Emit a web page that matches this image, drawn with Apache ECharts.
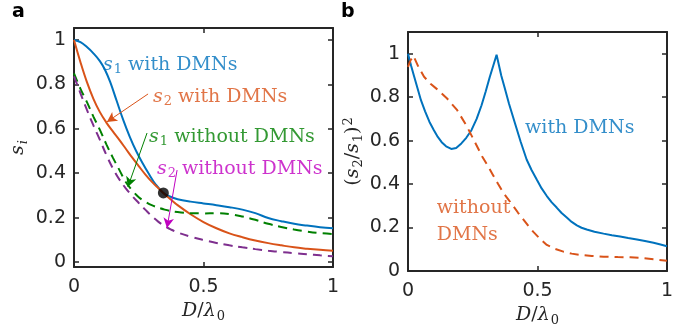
<!DOCTYPE html>
<html>
<head>
<meta charset="utf-8">
<script src="https://cdn.jsdelivr.net/npm/echarts@6/dist/echarts.min.js"></script>
<style>
  html, body {margin: 0; padding: 0; background: #fff;}
  #chart {width: 697px; height: 335px;}
</style>
</head>
<body>
<div id="chart"></div>
<script>
// panel a: s_i vs D/lambda0
const s1With = [[0, 1], [0.025, 0.99], [0.05, 0.968], [0.075, 0.94], [0.1, 0.905], [0.12, 0.865], [0.14, 0.81], [0.165, 0.725], [0.19, 0.64], [0.215, 0.565], [0.24, 0.5], [0.265, 0.445], [0.29, 0.395], [0.315, 0.35], [0.345, 0.311], [0.37, 0.295], [0.4, 0.283], [0.45, 0.272], [0.5, 0.264], [0.55, 0.256], [0.6, 0.247], [0.65, 0.236], [0.7, 0.22], [0.75, 0.198], [0.8, 0.184], [0.85, 0.172], [0.9, 0.164], [0.95, 0.157], [1, 0.152]];
const s2With = [[0, 1], [0.025, 0.9], [0.05, 0.81], [0.075, 0.735], [0.1, 0.675], [0.125, 0.628], [0.15, 0.588], [0.175, 0.55], [0.2, 0.51], [0.225, 0.47], [0.25, 0.432], [0.275, 0.395], [0.3, 0.362], [0.325, 0.333], [0.345, 0.311], [0.375, 0.28], [0.4, 0.256], [0.45, 0.215], [0.5, 0.18], [0.55, 0.152], [0.6, 0.129], [0.65, 0.112], [0.7, 0.097], [0.75, 0.085], [0.8, 0.075], [0.85, 0.066], [0.9, 0.06], [0.95, 0.055], [1, 0.051]];
const s1Without = [[0, 0.85], [0.025, 0.78], [0.05, 0.72], [0.075, 0.655], [0.1, 0.595], [0.125, 0.53], [0.15, 0.47], [0.175, 0.415], [0.2, 0.36], [0.225, 0.322], [0.25, 0.292], [0.275, 0.272], [0.3, 0.256], [0.35, 0.236], [0.4, 0.225], [0.45, 0.22], [0.5, 0.219], [0.55, 0.22], [0.6, 0.216], [0.65, 0.205], [0.7, 0.19], [0.75, 0.172], [0.8, 0.158], [0.85, 0.146], [0.9, 0.137], [0.95, 0.13], [1, 0.126]];
const s2Without = [[0, 0.836], [0.025, 0.76], [0.05, 0.685], [0.075, 0.615], [0.1, 0.55], [0.125, 0.482], [0.15, 0.422], [0.175, 0.372], [0.2, 0.332], [0.225, 0.297], [0.25, 0.266], [0.275, 0.236], [0.3, 0.207], [0.325, 0.182], [0.35, 0.162], [0.375, 0.146], [0.4, 0.133], [0.45, 0.114], [0.5, 0.099], [0.55, 0.086], [0.6, 0.075], [0.65, 0.066], [0.7, 0.058], [0.75, 0.051], [0.8, 0.045], [0.85, 0.04], [0.9, 0.035], [0.95, 0.03], [1, 0.026]];
const crossPoint = [[0.345, 0.311]];

// panel b: (s2/s1)^2 vs D/lambda0
const ratioWith = [[0, 1], [0.012, 0.945], [0.024, 0.894], [0.037, 0.84], [0.05, 0.786], [0.066, 0.735], [0.083, 0.686], [0.1, 0.648], [0.115, 0.617], [0.13, 0.593], [0.147, 0.574], [0.167, 0.562], [0.186, 0.566], [0.206, 0.587], [0.225, 0.613], [0.245, 0.648], [0.265, 0.7], [0.284, 0.763], [0.3, 0.826], [0.316, 0.894], [0.33, 0.948], [0.342, 0.995], [0.36, 0.9], [0.374, 0.84], [0.39, 0.77], [0.413, 0.68], [0.435, 0.595], [0.458, 0.513], [0.477, 0.465], [0.497, 0.421], [0.516, 0.38], [0.536, 0.345], [0.555, 0.316], [0.574, 0.292], [0.593, 0.267], [0.613, 0.246], [0.632, 0.226], [0.652, 0.21], [0.67, 0.199], [0.69, 0.191], [0.72, 0.181], [0.755, 0.172], [0.787, 0.165], [0.819, 0.159], [0.85, 0.152], [0.884, 0.145], [0.915, 0.138], [0.948, 0.13], [0.975, 0.122], [1, 0.114]];
const ratioWithout = [[0, 0.94], [0.01, 0.97], [0.021, 0.99], [0.04, 0.94], [0.062, 0.894], [0.087, 0.862], [0.113, 0.836], [0.151, 0.794], [0.19, 0.74], [0.228, 0.664], [0.261, 0.587], [0.287, 0.526], [0.31, 0.48], [0.329, 0.44], [0.348, 0.4], [0.368, 0.36], [0.387, 0.33], [0.406, 0.3], [0.425, 0.268], [0.445, 0.238], [0.465, 0.207], [0.484, 0.18], [0.51, 0.148], [0.536, 0.12], [0.568, 0.102], [0.6, 0.089], [0.632, 0.08], [0.665, 0.074], [0.71, 0.069], [0.755, 0.066], [0.81, 0.064], [0.858, 0.063], [0.9, 0.06], [0.948, 0.054], [1, 0.047]];

const yTicks = [0, 0.2, 0.4, 0.6, 0.8, 1];

// annotation anchors, in data units
const notesA = [
  {text: '{i|s}{sub|1}{n| with DMNs}', at: [0.112, 0.887], color: '#0072BD'},
  {text: '{i|s}{sub|2}{n| with DMNs}', at: [0.305, 0.743], color: '#D95319'},
  {text: '{i|s}{sub|1}{n| without DMNs}', at: [0.29, 0.563], color: '#008000'},
  {text: '{i|s}{sub|2}{n| without DMNs}', at: [0.32, 0.419], color: '#C000C0'},
];
const arrowsA = [
  {from: [0.286, 0.757], to: [0.127, 0.631], color: '#D95319'},
  {from: [0.282, 0.581], to: [0.208, 0.338], color: '#008000'},
  {from: [0.398, 0.414], to: [0.359, 0.153], color: '#C000C0'},
];
const notesB = [
  {text: '{n|with DMNs}', at: [0.452, 0.657], color: '#0072BD'},
  {text: '{n|without}', at: [0.111, 0.289], color: '#D95319'},
  {text: '{n|DMNs}', at: [0.111, 0.165], color: '#D95319'},
];

const ink = '#262626';
const serif = 'DejaVu Serif';
const richText = (color) => ({
  i: {fontFamily: serif, fontStyle: 'italic', fontSize: 19, color},
  n: {fontFamily: serif, fontSize: 19, color},
  sub: {fontFamily: serif, fontSize: 13, color, padding: [10, 0, 0, 1]},
  subi: {fontFamily: serif, fontStyle: 'italic', fontSize: 13, color, padding: [10, 0, 0, 1]},
  sup: {fontFamily: serif, fontSize: 13, color, padding: [0, 0, 10, 1]},
});

const chart = echarts.init(document.getElementById('chart'), null, {renderer: 'canvas'});

function boxAxis(gridIndex, pos, extra) {
  return Object.assign({
    type: 'value',
    gridIndex,
    position: pos,
    axisLine: {show: true, onZero: false, lineStyle: {color: ink, width: 2}},
    axisTick: {show: true, inside: true, length: 5, lineStyle: {color: ink, width: 1.5}},
    axisLabel: {show: false},
    splitLine: {show: false},
  }, extra);
}

const tickLabel = {show: true, color: ink, fontFamily: 'DejaVu Sans', fontSize: 19};

const xName = {
  name: '{i|D}{n|/}{i|λ}{sub|0}',
  nameLocation: 'middle',
  nameGap: 33,
  nameTextStyle: {rich: richText(ink)},
};

function yBox(gridIndex, pos, min, max, extra) {
  return boxAxis(gridIndex, pos, Object.assign({
    min, max,
    axisTick: {show: true, inside: true, length: 5, customValues: yTicks, lineStyle: {color: ink, width: 1.5}},
  }, extra));
}

function noteSeries(notes, xi, yi) {
  return {
    type: 'scatter',
    xAxisIndex: xi,
    yAxisIndex: yi,
    symbolSize: 0,
    silent: true,
    data: notes.map(n => ({
      value: n.at,
      label: {show: true, position: 'right', distance: 0, formatter: n.text, rich: richText(n.color)},
    })),
  };
}

function line(data, color, dashed, xi, yi, smooth) {
  return {
    type: 'line',
    xAxisIndex: xi,
    yAxisIndex: yi,
    data,
    smooth,
    showSymbol: false,
    lineStyle: {color, width: 2, type: dashed ? [9, 6] : 'solid'},
    z: 3,
  };
}

chart.setOption({
  animation: false,
  grid: [
    {left: 74, top: 28, width: 259, height: 239},
    {left: 408, top: 32, width: 259, height: 239},
  ],
  xAxis: [
    boxAxis(0, 'bottom', Object.assign({min: 0, max: 1, interval: 0.5,
      axisLabel: Object.assign({margin: 11, formatter: v => String(v)}, tickLabel)}, xName)),
    boxAxis(0, 'top', {min: 0, max: 1, interval: 0.5}),
    boxAxis(1, 'bottom', Object.assign({min: 0, max: 1, interval: 0.5,
      axisLabel: Object.assign({margin: 11, formatter: v => String(v)}, tickLabel)}, xName)),
    boxAxis(1, 'top', {min: 0, max: 1, interval: 0.5}),
  ],
  yAxis: [
    yBox(0, 'left', -0.0225, 1.054, {
      axisLabel: Object.assign({margin: 8, customValues: yTicks, formatter: v => String(v)}, tickLabel),
      name: '{i|s}{subi|i}',
      nameLocation: 'middle',
      nameGap: 44,
      nameRotate: 90,
      nameTextStyle: {rich: richText(ink)},
    }),
    yBox(0, 'right', -0.0225, 1.054, {}),
    yBox(1, 'left', 0, 1.1, {
      axisLabel: Object.assign({margin: 8, customValues: yTicks, formatter: v => String(v)}, tickLabel),
      name: '{n|(}{i|s}{sub|2}{n|/}{i|s}{sub|1}{n|)}{sup|2}',
      nameLocation: 'middle',
      nameGap: 43,
      nameRotate: 90,
      nameTextStyle: {rich: richText(ink)},
    }),
    yBox(1, 'right', 0, 1.1, {}),
  ],
  series: [
    line(s1With, '#0072BD', false, 0, 0, 0.4),
    Object.assign(line(s2With, '#D95319', false, 0, 0, 0.4), {
      markLine: {
        silent: true,
        symbol: ['none', 'arrow'],
        symbolSize: [8, 10],
        label: {show: false},
        data: arrowsA.map(a => [
          {coord: a.from, lineStyle: {color: a.color, width: 1, type: 'solid'}},
          {coord: a.to},
        ]),
      },
    }),
    line(s1Without, '#008000', true, 0, 0, 0.4),
    line(s2Without, '#7E2F8E', true, 0, 0, 0.4),
    {
      type: 'scatter',
      xAxisIndex: 0,
      yAxisIndex: 0,
      data: crossPoint,
      symbolSize: 11,
      itemStyle: {color: '#000'},
      z: 5,
    },
    noteSeries(notesA, 0, 0),
    line(ratioWith, '#0072BD', false, 2, 2, false),
    line(ratioWithout, '#D95319', true, 2, 2, false),
    noteSeries(notesB, 2, 2),
  ],
  graphic: [
    {type: 'text', left: 12, top: 3, style: {text: 'a', font: 'bold 19px "DejaVu Sans"', fill: '#000'}},
    {type: 'text', left: 341, top: 3, style: {text: 'b', font: 'bold 19px "DejaVu Sans"', fill: '#000'}},
  ],
});
</script>
</body>
</html>
